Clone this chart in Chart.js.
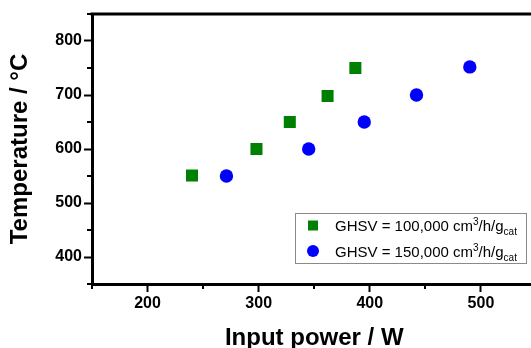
<!DOCTYPE html>
<html><head><meta charset="utf-8">
<script src="https://cdn.jsdelivr.net/npm/chart.js@4/dist/chart.umd.min.js"></script>
<style>
html,body{margin:0;padding:0;background:#fff;overflow:hidden;}
#wrap{position:relative;width:545px;height:348px;}
</style></head><body>
<div id="wrap"><canvas id="c" width="545" height="348"></canvas></div>
<script>
// ---- data ----
const powerA = [240, 298, 328, 362, 387];
const tempA  = [551, 600, 650, 698, 750];
const powerB = [271, 345, 395, 442, 490];
const tempB  = [550, 600, 650, 700, 752];
const seriesLabels = ['GHSV = 100,000 cm', 'GHSV = 150,000 cm'];
const unitSup = '3';
const unitMid = '/h/g';
const unitSub = 'cat';
const xTicks = [200, 300, 400, 500];
const yTicks = [400, 500, 600, 700, 800];
const xMinorTicks = [150, 250, 350, 450, 550];
const yMinorTicks = [350, 450, 550, 650, 750, 850];
const xTitle = 'Input power / W';
const yTitle = 'Temperature / °C';

const FONT = "'Liberation Sans', Arial, Helvetica, sans-serif";
Chart.defaults.font.family = FONT;
Chart.defaults.color = '#000';

const toPts = (xs, ys) => xs.map((x, i) => ({x: x, y: ys[i]}));

const frameAndMinor = {
  id: 'frameAndMinor',
  afterDraw(chart) {
    const ctx = chart.ctx, a = chart.chartArea;
    const xs = chart.scales.x, ys = chart.scales.y;
    ctx.save();
    ctx.strokeStyle = '#000';
    // top frame line
    ctx.lineWidth = 3;
    ctx.beginPath();
    ctx.moveTo(a.left - 1.5, a.top);
    ctx.lineTo(chart.width, a.top);
    ctx.stroke();
    // minor ticks
    ctx.lineWidth = 2;
    ctx.beginPath();
    xMinorTicks.forEach(v => {
      const p = Math.round(xs.getPixelForValue(v));
      ctx.moveTo(p, a.bottom); ctx.lineTo(p, a.bottom + 5);
    });
    yMinorTicks.forEach(v => {
      const p = Math.round(ys.getPixelForValue(v));
      ctx.moveTo(a.left, p); ctx.lineTo(a.left - 5, p);
    });
    ctx.stroke();

    // legend
    const bx = 295.5, by = 213.5, bw = 231, bh = 50;
    ctx.fillStyle = '#fff';
    ctx.fillRect(bx, by, bw, bh);
    ctx.strokeStyle = '#8a8a8a';
    ctx.lineWidth = 1;
    ctx.strokeRect(bx, by, bw, bh);
    const rows = [225.5, 251];
    chart.data.datasets.forEach((ds, i) => {
      const cy = rows[i];
      ctx.fillStyle = ds.backgroundColor;
      if (ds.pointStyle === 'rect') {
        ctx.fillRect(308, cy - 5, 10, 10);
      } else {
        ctx.beginPath(); ctx.arc(313, cy, 6, 0, Math.PI * 2); ctx.fill();
      }
      ctx.fillStyle = '#000';
      ctx.textBaseline = 'alphabetic';
      ctx.textAlign = 'left';
      let x = 335;
      const base = cy + 5.5;
      ctx.font = '15px ' + FONT;
      ctx.fillText(seriesLabels[i], x, base);
      x += ctx.measureText(seriesLabels[i]).width;
      ctx.font = '10px ' + FONT;
      ctx.fillText(unitSup, x, base - 6);
      x += ctx.measureText(unitSup).width;
      ctx.font = '15px ' + FONT;
      ctx.fillText(unitMid, x, base);
      x += ctx.measureText(unitMid).width;
      ctx.font = '10px ' + FONT;
      ctx.fillText(unitSub, x, base + 4);
    });
    ctx.restore();
  }
};

const tickFont = {family: FONT, size: 16, weight: 'bold'};
const titleFont = {family: FONT, size: 24, weight: 'bold', lineHeight: 1};

new Chart(document.getElementById('c'), {
  type: 'scatter',
  data: {
    datasets: [
      {label: seriesLabels[0] + unitSup + unitMid + unitSub, data: toPts(powerA, tempA),
       pointStyle: 'rect', pointRadius: 8.5, pointHoverRadius: 8.5,
       backgroundColor: '#008000', borderColor: '#008000', borderWidth: 0},
      {label: seriesLabels[1] + unitSup + unitMid + unitSub, data: toPts(powerB, tempB),
       pointStyle: 'circle', pointRadius: 6.7, pointHoverRadius: 6.7,
       backgroundColor: '#0000ff', borderColor: '#0000ff', borderWidth: 0}
    ]
  },
  options: {
    responsive: false,
    animation: false,
    events: [],
    layout: {padding: {top: 14, right: 4, left: 0, bottom: 0}},
    plugins: {legend: {display: false}, tooltip: {enabled: false}},
    scales: {
      x: {
        type: 'linear', position: 'bottom', min: 150, max: 550,
        afterBuildTicks: s => { s.ticks = xTicks.map(v => ({value: v})); },
        afterFit: s => { s.height = 64; },
        ticks: {font: tickFont, color: '#000', padding: 2, maxRotation: 0, autoSkip: false},
        grid: {drawOnChartArea: false, drawTicks: true, tickLength: 8, tickWidth: 2, tickColor: '#000'},
        border: {display: true, color: '#000', width: 3},
        title: {display: true, text: xTitle, font: titleFont, color: '#000', padding: {top: 0, bottom: -2}}
      },
      y: {
        type: 'linear', position: 'left', min: 350, max: 850,
        afterBuildTicks: s => { s.ticks = yTicks.map(v => ({value: v})); },
        afterFit: s => { s.width = 92; },
        ticks: {font: tickFont, color: '#000', padding: 2, autoSkip: false},
        grid: {drawOnChartArea: false, drawTicks: true, tickLength: 8, tickWidth: 2, tickColor: '#000'},
        border: {display: true, color: '#000', width: 3},
        title: {display: true, text: yTitle, font: titleFont, color: '#000', padding: {top: 8, bottom: 0}}
      }
    }
  },
  plugins: [frameAndMinor]
});
</script>
</body></html>
